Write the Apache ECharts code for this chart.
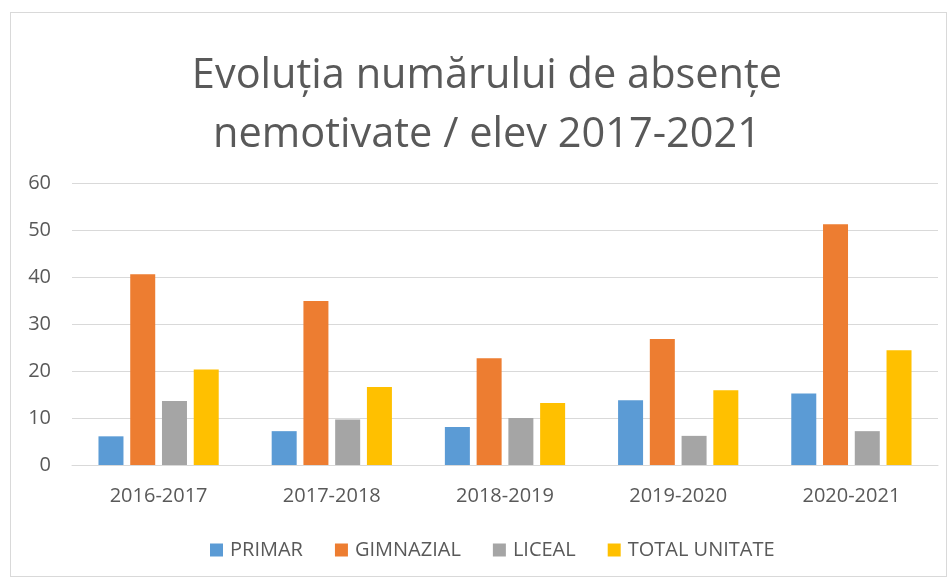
<!DOCTYPE html>
<html>
<head>
<meta charset="utf-8">
<script src="https://cdn.jsdelivr.net/npm/echarts@6/dist/echarts.min.js"></script>
<style>
    html, body { margin: 0; padding: 0; background: #fff; }
    #frame {
        position: absolute;
        left: 10px; top: 12px;
        width: 937px; height: 565px;
        border: 1px solid #d9d9d9;
        box-sizing: border-box;
    }
    #main { position: absolute; left: 0; top: 0; width: 952px; height: 580px; }
</style>
</head>
<body>
<div id="frame"></div>
<div id="main"></div>
<script>
const categories = ['2016-2017', '2017-2018', '2018-2019', '2019-2020', '2020-2021'];
const primar = [6.1, 7.2, 8.1, 13.8, 15.2];
const gimnazial = [40.6, 34.9, 22.7, 26.8, 51.2];
const liceal = [13.6, 9.7, 10.0, 6.2, 7.2];
const totalUnitate = [20.3, 16.6, 13.2, 15.9, 24.4];

const textColor = '#595959';
const fontFamily = '"Open Sans", "Liberation Sans", sans-serif';

const myChart = echarts.init(document.getElementById('main'));

function barSeries(name, data, color) {
    return {
        name: name,
        type: 'bar',
        data: data,
        barWidth: 25,
        barGap: '27%',
        itemStyle: { color: color },
        emphasis: { disabled: true }
    };
}

const option = {
    backgroundColor: 'transparent',
    animation: false,
    textStyle: { fontFamily: fontFamily },
    title: {
        text: 'Evoluția numărului de absențe\nnemotivate / elev 2017-2021',
        left: 482,
        top: 42,
        textAlign: 'center',
        textStyle: {
            color: textColor,
            fontSize: 41.5,
            fontWeight: 'normal',
            fontFamily: fontFamily,
            lineHeight: 59
        }
    },
    legend: {
        top: 535,
        left: 205,
        itemWidth: 13,
        itemHeight: 13,
        itemGap: 32,
        icon: 'rect',
        textStyle: { color: textColor, fontSize: 20, fontFamily: fontFamily, padding: [0, 0, 0, 2] },
        data: ['PRIMAR', 'GIMNAZIAL', 'LICEAL', 'TOTAL UNITATE']
    },
    grid: {
        left: 72,
        right: 14,
        top: 183,
        bottom: 115
    },
    xAxis: {
        type: 'category',
        data: categories,
        axisLine: { lineStyle: { color: '#d9d9d9', width: 1 } },
        axisTick: { show: false },
        axisLabel: { color: textColor, fontSize: 20, margin: 21 }
    },
    yAxis: {
        type: 'value',
        min: 0,
        max: 60,
        interval: 10,
        axisLine: { show: false },
        axisTick: { show: false },
        axisLabel: { color: textColor, fontSize: 20, margin: 21 },
        splitLine: { lineStyle: { color: '#d9d9d9', width: 1 } }
    },
    series: [
        barSeries('PRIMAR', primar, '#5b9bd5'),
        barSeries('GIMNAZIAL', gimnazial, '#ed7d31'),
        barSeries('LICEAL', liceal, '#a5a5a5'),
        barSeries('TOTAL UNITATE', totalUnitate, '#ffc000')
    ]
};

myChart.setOption(option);
</script>
</body>
</html>
